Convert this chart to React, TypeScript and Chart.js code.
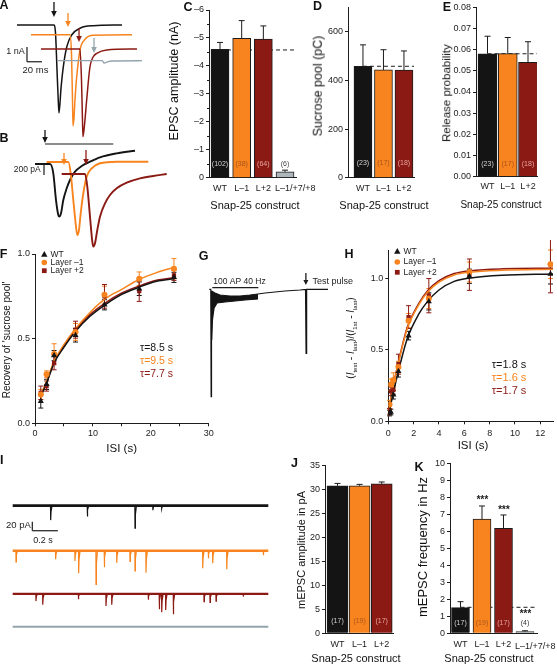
import React, { useEffect, useRef } from 'react';
import { Chart, registerables } from 'chart.js';

Chart.register(...registerables);

const FONT = '"Liberation Sans", Arial, Helvetica, sans-serif';
Chart.defaults.font.family = FONT;
Chart.defaults.color = '#111';

const BLACK = '#141414';
const ORANGE = '#f7841e';
const RED = '#8c1a14';
const LIGHTGRAY = '#adb7bb';
const TRACEGRAY = '#93a4ad';
const INK = '#1c1c1c';

// ================= DATA =================
// A: evoked EPSCs (time ms, current nA)
const A_WT_T = [0, 49, 51.3, 53.3, 54.9, 56, 58.7, 61.7, 66.3, 72.9, 84, 101.7, 140];
const A_WT_I = [0, 0, -0.5, -3.0, -5.0, -5.99, -4.29, -2.86, -1.5, -0.68, -0.22, -0.05, 0];
const A_L1_T = [18.7, 70.7, 72.7, 74, 74.7, 76, 77.3, 79.6, 84, 90.7, 101.7, 153.3];
const A_L1_I = [-0.66, -0.66, -2.04, -5.1, -6.87, -6.33, -5.1, -3.54, -1.7, -0.97, -0.7, -0.66];
const A_L2_T = [32, 84, 86, 87.3, 88, 90, 92.9, 97.3, 101.7, 106.3, 119.6, 160];
const A_L2_I = [-1.63, -1.63, -3.74, -6.46, -7.6, -6.8, -5.1, -2.84, -2.16, -1.93, -1.7, -1.63];
const A_LM_T = [54.7, 114, 116, 118.5, 126.7, 166.7];
const A_LM_I = [-2.43, -2.43, -2.6, -2.55, -2.45, -2.43];
const A_STIM_T = [49.3, 68, 82.7, 102.7];
const A_ARROW_FROM = [1.56, 0.82, -0.2, -0.88];
const A_ARROW_TO = [0.54, -0.14, -1.16, -1.9];

// B: sucrose responses (time s, current pA)
const B_WT_T = [0, 1.5, 1.83, 2.1, 2.33, 2.43, 2.6, 2.83, 3.17, 3.5, 4.0, 4.67, 5.5, 6.5, 8.17, 10.0];
const B_WT_I = [0, 0, -169, -655, -927, -957, -897, -655, -442, -291, -140, -36, 42, 122, 194, 242];
const B_L1_T = [1.17, 3.33, 3.57, 3.83, 4.1, 4.23, 4.4, 4.57, 4.83, 5.17, 5.67, 6.5, 8.17, 11.33];
const B_L1_I = [36, 36, -169, -655, -1139, -1291, -1200, -897, -533, -231, -78, 13, 42, 42];
const B_L2_T = [2.67, 5.0, 5.23, 5.5, 5.73, 5.83, 6.0, 6.23, 6.5, 7.0, 7.5, 8.17, 9.17, 10.5, 11.83, 13.17];
const B_L2_I = [-182, -182, -411, -957, -1412, -1503, -1442, -1200, -957, -715, -564, -442, -339, -260, -218, -182];
const B_STIM_T = [1.0, 2.9, 5.1];
const B_ARROW_FROM = [618, 200, 255];
const B_ARROW_TO = [382, -18, -18];

// C
const C_CATS = ['WT', 'L–1', 'L+2', 'L–1/+7/+8'];
const C_VALUES = [-4.59, -4.99, -4.96, -0.21];
const C_ERRORS = [0.25, 0.63, 0.47, 0.06];
const C_N = ['(102)', '(38)', '(64)', '(6)'];
const C_REF = -4.57;

// D
const D_CATS = ['WT', 'L–1', 'L+2'];
const D_VALUES = [458, 443, 442];
const D_ERRORS = [88, 83, 79];
const D_N = ['(23)', '(17)', '(18)'];
const D_REF = 458;

// E
const E_CATS = ['WT', 'L–1', 'L+2'];
const E_VALUES = [0.0581, 0.0582, 0.054];
const E_ERRORS = [0.0083, 0.0076, 0.0098];
const E_N = ['(23)', '(17)', '(18)'];
const E_REF = 0.0581;

// F
const F_ISI = [1, 2, 3.3, 7, 12, 18, 24];
const F_WT = [0.13, 0.23, 0.4, 0.52, 0.7, 0.795, 0.862];
const F_WT_ERR = [0.04, 0.03, 0.03, 0.04, 0.03, 0.04, 0.03];
const F_L1 = [0.17, 0.29, 0.41, 0.54, 0.76, 0.854, 0.913];
const F_L1_ERR = [0.03, 0.02, 0.06, 0.05, 0.05, 0.04, 0.06];
const F_L2 = [0.18, 0.22, 0.356, 0.553, 0.75, 0.78, 0.874];
const F_L2_ERR = [0.04, 0.03, 0.04, 0.05, 0.07, 0.06, 0.03];
const F_FIT_X = [1, 2, 3.3, 4.9, 7.1, 9.5, 12.1, 14.9, 17.9, 21, 24];
const F_FIT_WT = [0.16, 0.238, 0.356, 0.445, 0.547, 0.632, 0.7, 0.76, 0.803, 0.839, 0.854];
const F_FIT_L1 = [0.165, 0.25, 0.366, 0.46, 0.563, 0.655, 0.735, 0.79, 0.848, 0.89, 0.921];
const F_FIT_L2 = [0.16, 0.24, 0.36, 0.452, 0.555, 0.642, 0.71, 0.768, 0.81, 0.845, 0.86];
const F_TAU = ['τ=8.5 s', 'τ=9.5 s', 'τ=7.7 s'];

// H
const H_ISI = [0.1, 0.2, 0.4, 0.8, 1.6, 3.2, 6.4, 12.8];
const H_WT = [0.058, 0.065, 0.186, 0.35, 0.6, 0.84, 1.016, 1.032];
const H_WT_ERR = [0.02, 0.02, 0.03, 0.04, 0.03, 0.06, 0.05, 0.07];
const H_L1 = [0.117, 0.257, 0.29, 0.38, 0.705, 0.86, 1.046, 1.1];
const H_L1_ERR = [0.03, 0.04, 0.05, 0.04, 0.05, 0.07, 0.07, 0.1];
const H_L2 = [0.07, 0.21, 0.22, 0.4, 0.73, 0.88, 1.027, 1.1];
const H_L2_ERR = [0.02, 0.03, 0.03, 0.07, 0.08, 0.12, 0.11, 0.2];
const H_FIT_X = [0, 0.3, 0.7, 1.5, 2.4, 3.1, 4, 5.2, 6.5, 9, 13];
const H_FIT_WT = [0.035, 0.16, 0.315, 0.58, 0.75, 0.84, 0.92, 0.98, 1.004, 1.023, 1.032];
const H_FIT_L1 = [0.035, 0.2, 0.37, 0.65, 0.815, 0.905, 0.975, 1.025, 1.045, 1.058, 1.065];
const H_FIT_L2 = [0.035, 0.21, 0.375, 0.66, 0.825, 0.915, 0.985, 1.035, 1.055, 1.068, 1.072];
const H_TAU = ['τ=1.8 s', 'τ=1.6 s', 'τ=1.7 s'];

// G: 100 AP at 40 Hz train (time s, current nA)
const G_T = [0, 0.08, 0.1, 0.12, 0.31, 0.58, 1.12, 1.67, 2.21, 2.65, 3.03, 3.57, 4.11, 4.93, 5.23, 5.26, 5.29, 6.45];
const G_I = [0, 0, -10.74, -0.17, -0.37, -0.57, -0.67, -0.67, -0.57, -0.47, -0.37, -0.27, -0.17, -0.07, -0.02, -6.4, 0, 0];
const G_LOW_T = [0.12, 0.13, 0.17, 0.26, 0.42, 0.85, 1.4, 1.94, 2.65];
const G_LOW_I = [-0.17, -5.07, -3.07, -1.87, -1.37, -1.27, -1.17, -1.07, -0.97];

// I: mEPSC events (time s, amplitude pA)
const I_WT_T = [0.297, 0.584, 0.957, 1.097, 1.166];
const I_WT_A = [32, 24, 50, 10, 6];
const I_L1_T = [0.026, 0.336, 0.487, 0.516, 0.652, 0.717, 0.814, 0.918, 0.957, 1.043, 1.487, 1.531, 1.565, 1.675, 1.961];
const I_L1_A = [25, 19, 23, 50, 75, 37, 27, 24, 45, 49, 39, 17, 28, 41, 10];
const I_L2_T = [0.182, 0.235, 0.514, 0.73, 0.775, 1.061, 1.147, 1.166, 1.197, 1.257, 1.497, 1.544, 1.591, 1.804];
const I_L2_A = [16, 24, 12, 27, 24, 13, 34, 41, 36, 45, 17, 19, 16, 6];
const I_LM_T: number[] = [];
const I_LM_A: number[] = [];
const I_DURATION = 2.0;

// J
const J_CATS = ['WT', 'L–1', 'L+2'];
const J_VALUES = [30.8, 30.8, 31.2];
const J_ERRORS = [0.5, 0.3, 0.4];
const J_N = ['(17)', '(19)', '(17)'];

// K
const K_CATS = ['WT', 'L–1', 'L+2', 'L–1/+7/+8'];
const K_VALUES = [1.51, 6.72, 6.18, 0.1];
const K_ERRORS = [0.35, 0.77, 0.78, 0.05];
const K_N = ['(17)', '(19)', '(17)', '(4)'];
const K_SIG = ['', '***', '***', '***'];
const K_REF = 1.53;

// ================= PLUGIN =================
type Rect = { x: number; y: number; w: number; h: number };
type Area = { l: number; t: number; r: number; b: number };

function drawMarker(ctx: any, style: string, x: number, y: number, r: number, color: string) {
  ctx.fillStyle = color;
  ctx.beginPath();
  if (style === 'triangle') {
    ctx.moveTo(x, y - r * 1.1);
    ctx.lineTo(x + r, y + r * 0.7);
    ctx.lineTo(x - r, y + r * 0.7);
    ctx.closePath();
  } else if (style === 'rect') {
    ctx.rect(x - r * 0.85, y - r * 0.85, r * 1.7, r * 1.7);
  } else {
    ctx.arc(x, y, r, 0, Math.PI * 2);
  }
  ctx.fill();
}

function drawAnnot(chart: any, layer: string) {
  const a = chart.data.annot;
  if (!a) return;
  const ctx = chart.ctx;
  const ca = chart.chartArea;
  const xs = chart.scales.x;
  const ys = chart.scales.y;
  const o = a.origin;
  const X = (v: any, pg: boolean) => (v === 'R' ? ca.right : pg ? v - o.x : xs.getPixelForValue(v));
  const Y = (v: any, pg: boolean) => (pg ? v - o.y : ys.getPixelForValue(v));
  for (const it of a.items) {
    if ((it.layer || 'after') !== layer) continue;
    const pg = !!it.pg;
    const pgy = pg || !!it.pgy;
    ctx.save();
    if (it.k === 'line') {
      ctx.strokeStyle = it.c || INK;
      ctx.lineWidth = it.w || 1;
      ctx.setLineDash(it.dash || []);
      ctx.beginPath();
      ctx.moveTo(X(it.x1, pg), Y(it.y1, pgy));
      ctx.lineTo(X(it.x2, pg), Y(it.y2, pgy));
      ctx.stroke();
    } else if (it.k === 'arrow') {
      const x = X(it.x, pg);
      const y1 = Y(it.y1, pgy);
      const y2 = Y(it.y2, pgy);
      const hw = it.hw || 2.8;
      const hl = it.hl || 6;
      ctx.strokeStyle = it.c || INK;
      ctx.fillStyle = it.c || INK;
      ctx.lineWidth = it.w || 1.3;
      ctx.beginPath();
      ctx.moveTo(x, y1);
      ctx.lineTo(x, y2 - hl + 1);
      ctx.stroke();
      ctx.beginPath();
      ctx.moveTo(x - hw, y2 - hl);
      ctx.lineTo(x + hw, y2 - hl);
      ctx.lineTo(x, y2);
      ctx.closePath();
      ctx.fill();
    } else if (it.k === 'text') {
      ctx.fillStyle = it.c || INK;
      ctx.font = `${it.italic ? 'italic ' : ''}${it.bold ? 'bold ' : ''}${it.size || 9}px ${FONT}`;
      ctx.textAlign = it.align || 'center';
      ctx.textBaseline = it.base || 'middle';
      ctx.fillText(it.t, X(it.x, pg) + (it.dx || 0), Y(it.y, pgy));
    } else if (it.k === 'marker') {
      drawMarker(ctx, it.style, X(it.x, pg), Y(it.y, pgy), it.r || 3, it.c);
    } else if (it.k === 'yminor') {
      ctx.strokeStyle = INK;
      ctx.lineWidth = 1;
      ctx.beginPath();
      for (const v of it.values) {
        const y = Math.round(ys.getPixelForValue(v)) + 0.5;
        ctx.moveTo(ca.left, y);
        ctx.lineTo(ca.left - it.len, y);
      }
      ctx.stroke();
    }
    ctx.restore();
  }
}

function drawErrors(chart: any, layer: string) {
  const ctx = chart.ctx;
  const ys = chart.scales.y;
  chart.data.datasets.forEach((ds: any, di: number) => {
    if (!ds.errors || (ds.errLayer || 'after') !== layer) return;
    const meta = chart.getDatasetMeta(di);
    meta.data.forEach((el: any, i: number) => {
      const e = ds.errors[i];
      if (e == null) return;
      const raw = ds.data[i];
      const v = typeof raw === 'number' ? raw : raw.y;
      const x = el.x;
      const cap = ds.errCap ?? 3;
      ctx.save();
      ctx.strokeStyle = ds.errColor || INK;
      ctx.lineWidth = ds.errWidth || 1;
      ctx.beginPath();
      if (ds.errBoth) {
        const y1 = ys.getPixelForValue(v + e);
        const y2 = ys.getPixelForValue(v - e);
        ctx.moveTo(x, y1); ctx.lineTo(x, y2);
        ctx.moveTo(x - cap, y1); ctx.lineTo(x + cap, y1);
        ctx.moveTo(x - cap, y2); ctx.lineTo(x + cap, y2);
      } else {
        const dir = v < 0 ? -1 : 1;
        const y1 = ys.getPixelForValue(v);
        const y2 = ys.getPixelForValue(v + dir * e);
        ctx.moveTo(x, y1); ctx.lineTo(x, y2);
        ctx.moveTo(x - cap, y2); ctx.lineTo(x + cap, y2);
      }
      ctx.stroke();
      ctx.restore();
    });
  });
}

Chart.register({
  id: 'figExtras',
  beforeDatasetsDraw(chart: any) {
    drawAnnot(chart, 'before');
    drawErrors(chart, 'before');
  },
  afterDatasetsDraw(chart: any) {
    drawErrors(chart, 'after');
    drawAnnot(chart, 'after');
  },
} as any);

// ================= BUILDERS =================
function frame(rect: Rect, area: Area) {
  return {
    padding: { left: 0, top: area.t - rect.y, right: rect.x + rect.w - area.r, bottom: 0 },
    yw: area.l - rect.x,
    xh: rect.y + rect.h - area.b,
  };
}

const common = {
  responsive: false,
  animation: false,
  devicePixelRatio: 1,
  events: [],
};
const noPlugins = { legend: { display: false }, tooltip: { enabled: false }, title: { display: false } };

function barChart(s: any) {
  const f = frame(s.rect, s.area);
  const items: any[] = [];
  if (s.ref != null) items.push({ k: 'line', layer: 'before', x1: 0, y1: s.ref, x2: 'R', y2: s.ref, c: INK, w: 1, dash: [4, 3] });
  s.nText.forEach((t: string, i: number) => items.push({ k: 'text', x: i, y: s.nAt, t, c: s.nColors[i], size: 7 }));
  (s.sig || []).forEach((t: string, i: number) => {
    if (t) items.push({ k: 'text', x: i, y: s.sigAt[i], t, c: INK, size: 10, bold: true, italic: true });
  });
  if (s.leftLabel) items.push({ k: 'text', x: s.leftLabel.i, dx: -s.barPx / 2 - 1, y: s.leftLabel.y, pgy: true, t: s.cats[s.leftLabel.i], size: 9, align: 'left' });
  if (s.minor) items.push({ k: 'yminor', values: s.minor, len: 2 });
  return {
    type: 'bar',
    data: {
      annot: { origin: { x: s.rect.x, y: s.rect.y }, items },
      datasets: [
        {
          data: s.values.map((v: number, i: number) => ({ x: i, y: v })),
          backgroundColor: s.colors,
          borderColor: INK,
          borderWidth: 1,
          barThickness: s.barPx,
          errors: s.errors,
          errColor: INK,
          errCap: 3,
        },
      ],
    },
    options: {
      ...common,
      layout: { padding: f.padding },
      plugins: noPlugins,
      scales: {
        x: {
          type: 'linear', min: s.xMin, max: s.xMax, offset: false,
          afterFit: (sc: any) => { sc.height = f.xh; },
          grid: { display: false, drawTicks: false, offset: false },
          border: { display: true, color: INK, width: 1 },
          ticks: {
            stepSize: 1, includeBounds: false, autoSkip: false, maxRotation: 0, minRotation: 0,
            padding: s.xPad ?? 5, font: { family: FONT, size: 9 }, color: INK,
            callback: (v: number) =>
              Number.isInteger(v) && !(s.leftLabel && s.leftLabel.i === v) ? s.cats[v] ?? '' : '',
          },
        },
        y: {
          type: 'linear', min: s.yMin, max: s.yMax, reverse: !!s.reverse,
          afterFit: (sc: any) => { sc.width = f.yw; },
          grid: { display: true, drawOnChartArea: false, drawTicks: true, tickLength: 3, tickColor: INK, tickWidth: 1 },
          border: { display: true, color: INK, width: 1 },
          ticks: { stepSize: s.yStep, includeBounds: false, autoSkip: false, padding: 2, font: { family: FONT, size: 9 }, color: INK, callback: s.yFmt },
        },
      },
    },
  };
}

function scatterChart(s: any) {
  const f = frame(s.rect, s.area);
  const datasets: any[] = [];
  s.series.forEach((se: any) => {
    datasets.push({
      data: s.x.map((x: number, i: number) => ({ x, y: se.y[i] })),
      pointStyle: se.style, pointRadius: se.r, backgroundColor: se.color, borderColor: se.color, borderWidth: 0,
      showLine: false, errors: se.err, errBoth: true, errColor: se.color, errLayer: 'before', errCap: 2.5, order: 1,
    });
  });
  s.series.forEach((se: any) => {
    datasets.push({
      data: s.fitX.map((x: number, i: number) => ({ x, y: se.fit[i] })),
      showLine: true, pointRadius: 0, borderColor: se.color, borderWidth: 1.5,
      cubicInterpolationMode: 'monotone', order: 2,
    });
  });
  return {
    type: 'scatter',
    data: { annot: { origin: { x: s.rect.x, y: s.rect.y }, items: s.items }, datasets },
    options: {
      ...common,
      layout: { padding: f.padding },
      plugins: noPlugins,
      scales: {
        x: {
          type: 'linear', min: s.xMin, max: s.xMax,
          afterFit: (sc: any) => { sc.height = f.xh; },
          grid: { display: true, drawOnChartArea: false, drawTicks: true, tickLength: 3, tickColor: INK },
          border: { display: true, color: INK, width: 1 },
          ticks: { stepSize: s.xStep, includeBounds: false, autoSkip: false, maxRotation: 0, padding: s.xPad, font: { family: FONT, size: 9 }, color: INK, callback: s.xFmt },
        },
        y: {
          type: 'linear', min: s.yMin, max: s.yMax,
          afterFit: (sc: any) => { sc.width = f.yw; },
          grid: { display: true, drawOnChartArea: false, drawTicks: true, tickLength: 3, tickColor: INK },
          border: { display: true, color: INK, width: 1 },
          ticks: { stepSize: s.yStep, includeBounds: false, autoSkip: false, padding: 2, font: { family: FONT, size: 9 }, color: INK, callback: (v: number) => v.toFixed(1) },
        },
      },
    },
  };
}

function traceChart(rect: Rect, fr: any, datasets: any[], items: any[]) {
  const xMin = (rect.x - fr.x0) / fr.xu;
  const xMax = (rect.x + rect.w - fr.x0) / fr.xu;
  const yMax = (fr.y0 - rect.y) / fr.yu;
  const yMin = (fr.y0 - rect.y - rect.h) / fr.yu;
  return {
    type: 'scatter',
    data: { annot: { origin: { x: rect.x, y: rect.y }, items }, datasets },
    options: {
      ...common,
      layout: { padding: 0 },
      plugins: noPlugins,
      scales: {
        x: { type: 'linear', display: false, min: xMin, max: xMax },
        y: { type: 'linear', display: false, min: yMin, max: yMax },
      },
    },
  };
}

const line = (t: number[], v: number[], color: string, w = 1.4, extra: any = {}) => ({
  data: t.map((x, i) => ({ x, y: v[i] })),
  showLine: true, pointRadius: 0, borderColor: color, borderWidth: w,
  cubicInterpolationMode: 'monotone', ...extra,
});

function spikeTrace(ts: number[], as: number[], base: number, color: string) {
  const pts: any[] = [];
  ts.forEach((t, i) => {
    const a = as[i];
    pts.push({ x: t - 0.001, y: base }, { x: t, y: base - a }, { x: t + 0.003, y: base - a * 0.4 }, { x: t + 0.011, y: base }, { x: NaN, y: NaN });
  });
  return { data: pts, showLine: true, spanGaps: false, pointRadius: 0, borderColor: color, borderWidth: 1.2 };
}
function baseTrace(base: number, t1: number, color: string, w: number) {
  return { data: [{ x: 0, y: base }, { x: t1, y: base }], showLine: true, pointRadius: 0, borderColor: color, borderWidth: w };
}

// ================= CHART SPECS =================
const NCOL3 = ['#d0d0d0', '#a9531b', '#e7a39d'];

const CHARTS: { id: string; rect: Rect; build: () => any }[] = [
  {
    id: 'A',
    rect: { x: 0, y: 0, w: 185, h: 150 },
    build() {
      const fr = { x0: 17, xu: 0.75, y0: 25, yu: 14.7 };
      const cols = [BLACK, ORANGE, RED, TRACEGRAY];
      const items: any[] = A_STIM_T.map((t, i) => ({ k: 'arrow', x: t, y1: A_ARROW_FROM[i], y2: A_ARROW_TO[i], c: cols[i] }));
      items.push({ k: 'line', x1: 13.33, y1: -1.5, x2: 13.33, y2: -2.5, c: INK, w: 1.2 });
      items.push({ k: 'line', x1: 13.33, y1: -2.5, x2: 33.33, y2: -2.5, c: INK, w: 1.2 });
      items.push({ k: 'text', pg: true, x: 15.5, y: 52, t: '1 nA', size: 9 });
      items.push({ k: 'text', pg: true, x: 35.5, y: 70, t: '20 ms', size: 9.5 });
      return traceChart(this.rect, fr, [
        line(A_LM_T, A_LM_I, TRACEGRAY, 1.3),
        line(A_L2_T, A_L2_I, RED, 1.5),
        line(A_L1_T, A_L1_I, ORANGE, 1.5),
        line(A_WT_T, A_WT_I, BLACK, 1.5),
      ], items);
    },
  },
  {
    id: 'B',
    rect: { x: 0, y: 122, w: 185, h: 135 },
    build() {
      const fr = { x0: 35, xu: 10, y0: 164, yu: 0.055 };
      const cols = [BLACK, ORANGE, RED];
      const items: any[] = [{ k: 'line', x1: 1.0, y1: 364, x2: 7.83, y2: 364, c: INK, w: 1.2 }];
      B_STIM_T.forEach((t, i) => items.push({ k: 'arrow', x: t, y1: B_ARROW_FROM[i], y2: B_ARROW_TO[i], c: cols[i] }));
      items.push({ k: 'line', x1: 0.9, y1: 0, x2: 0.9, y2: -200, c: INK, w: 1.2 });
      items.push({ k: 'text', pg: true, x: 27.3, y: 169.3, t: '200 pA', size: 8.5 });
      return traceChart(this.rect, fr, [
        line(B_L2_T, B_L2_I, RED, 1.9),
        line(B_L1_T, B_L1_I, ORANGE, 1.9),
        line(B_WT_T, B_WT_I, BLACK, 1.9),
      ], items);
    },
  },
  {
    id: 'C',
    rect: { x: 182, y: 0, w: 136, h: 200 },
    build() {
      return barChart({
        rect: this.rect, area: { l: 209, t: 10, r: 296, b: 177.7 },
        cats: C_CATS, values: C_VALUES, errors: C_ERRORS, colors: [BLACK, ORANGE, RED, LIGHTGRAY],
        nText: C_N, nColors: [...NCOL3, '#444'], nAt: -0.5,
        yMin: -6, yMax: 0, reverse: true, yStep: 1, yFmt: (v: number) => (v === 0 ? '0' : '–' + Math.abs(v)),
        xMin: -0.508, xMax: 3.507, barPx: 18, ref: C_REF,
        leftLabel: { i: 3, y: 188.3 }, minor: [-5.5, -4.5, -3.5, -2.5, -1.5, -0.5],
      });
    },
  },
  {
    id: 'D',
    rect: { x: 322, y: 0, w: 104, h: 200 },
    build() {
      return barChart({
        rect: this.rect, area: { l: 348, t: 7.4, r: 414, b: 177.7 },
        cats: D_CATS, values: D_VALUES, errors: D_ERRORS, colors: [BLACK, ORANGE, RED],
        nText: D_N, nColors: NCOL3, nAt: 60,
        yMin: 0, yMax: 700, yStep: 200, yFmt: (v: number) => String(v),
        xMin: -0.73, xMax: 2.49, barPx: 18, ref: D_REF,
      });
    },
  },
  {
    id: 'E',
    rect: { x: 445, y: 0, w: 112, h: 200 },
    build() {
      return barChart({
        rect: this.rect, area: { l: 476, t: 7.5, r: 537, b: 176.5 },
        cats: E_CATS, values: E_VALUES, errors: E_ERRORS, colors: [BLACK, ORANGE, RED],
        nText: E_N, nColors: NCOL3, nAt: 0.006,
        yMin: 0, yMax: 0.08, yStep: 0.01, yFmt: (v: number) => v.toFixed(2),
        xMin: -0.568, xMax: 2.444, barPx: 19, ref: E_REF,
      });
    },
  },
  {
    id: 'F',
    rect: { x: 8, y: 244, w: 212, h: 216 },
    build() {
      const items: any[] = [
        { k: 'marker', pg: true, x: 44.3, y: 254.5, style: 'triangle', c: BLACK, r: 3.2 },
        { k: 'marker', pg: true, x: 44.3, y: 262.5, style: 'circle', c: ORANGE, r: 2.8 },
        { k: 'marker', pg: true, x: 44.3, y: 270.7, style: 'rect', c: RED, r: 2.8 },
        { k: 'text', pg: true, x: 50.5, y: 254.5, t: 'WT', size: 8.5, align: 'left' },
        { k: 'text', pg: true, x: 50.5, y: 262.5, t: 'Layer –1', size: 8.5, align: 'left' },
        { k: 'text', pg: true, x: 50.5, y: 270.7, t: 'Layer +2', size: 8.5, align: 'left' },
        { k: 'text', pg: true, x: 140, y: 348, t: F_TAU[0], size: 10.5, align: 'left', c: BLACK },
        { k: 'text', pg: true, x: 140, y: 361, t: F_TAU[1], size: 10.5, align: 'left', c: ORANGE },
        { k: 'text', pg: true, x: 140, y: 374, t: F_TAU[2], size: 10.5, align: 'left', c: RED },
      ];
      return scatterChart({
        rect: this.rect, area: { l: 35, t: 254, r: 208.7, b: 423.3 },
        x: F_ISI, fitX: F_FIT_X,
        series: [
          { y: F_WT, err: F_WT_ERR, fit: F_FIT_WT, color: BLACK, style: 'triangle', r: 3.5 },
          { y: F_L1, err: F_L1_ERR, fit: F_FIT_L1, color: ORANGE, style: 'circle', r: 3 },
          { y: F_L2, err: F_L2_ERR, fit: F_FIT_L2, color: RED, style: 'rect', r: 3 },
        ],
        xMin: 0, xMax: 30, xStep: 5, xPad: 1.5, xFmt: (v: number) => (v % 10 === 0 ? String(v) : ''),
        yMin: 0, yMax: 1, yStep: 0.5, items,
      });
    },
  },
  {
    id: 'G',
    rect: { x: 195, y: 262, w: 170, h: 145 },
    build() {
      const fr = { x0: 209.3, xu: 18.4, y0: 289.3, yu: 10 };
      const items: any[] = [
        { k: 'line', x1: 0.163, y1: 0.16, x2: 2.663, y2: 0.16, c: INK, w: 1.2 },
        { k: 'text', pg: true, x: 239.5, y: 281.5, t: '100 AP 40 Hz', size: 8.5 },
        { k: 'arrow', x: 5.25, y1: 1.63, y2: 0.43, c: INK, hw: 2.5, hl: 5 },
        { k: 'text', pg: true, x: 312.5, y: 281.7, t: 'Test pulse', size: 9, align: 'left' },
      ];
      return traceChart(this.rect, fr, [
        line(G_T, G_I, BLACK, 1.2, { cubicInterpolationMode: 'default', tension: 0 }),
        line(G_LOW_T, G_LOW_I, BLACK, 1.2, { cubicInterpolationMode: 'default', tension: 0, fill: '-1', backgroundColor: BLACK }),
      ], items);
    },
  },
  {
    id: 'H',
    rect: { x: 360, y: 240, w: 197, h: 216 },
    build() {
      const items: any[] = [
        { k: 'marker', pg: true, x: 397.3, y: 251.5, style: 'triangle', c: BLACK, r: 3.2 },
        { k: 'marker', pg: true, x: 397.3, y: 262, style: 'circle', c: ORANGE, r: 2.8 },
        { k: 'marker', pg: true, x: 397.3, y: 272.3, style: 'rect', c: RED, r: 2.8 },
        { k: 'text', pg: true, x: 403.5, y: 251.5, t: 'WT', size: 8.5, align: 'left' },
        { k: 'text', pg: true, x: 403.5, y: 262, t: 'Layer –1', size: 8.5, align: 'left' },
        { k: 'text', pg: true, x: 403.5, y: 272.3, t: 'Layer +2', size: 8.5, align: 'left' },
        { k: 'text', pg: true, x: 491.7, y: 365.3, t: H_TAU[0], size: 11, align: 'left', c: BLACK },
        { k: 'text', pg: true, x: 491.7, y: 378, t: H_TAU[1], size: 11, align: 'left', c: ORANGE },
        { k: 'text', pg: true, x: 491.7, y: 390.7, t: H_TAU[2], size: 11, align: 'left', c: RED },
      ];
      return scatterChart({
        rect: this.rect, area: { l: 388.3, t: 250, r: 556.7, b: 421.3 },
        x: H_ISI, fitX: H_FIT_X,
        series: [
          { y: H_WT, err: H_WT_ERR, fit: H_FIT_WT, color: BLACK, style: 'triangle', r: 3.5 },
          { y: H_L1, err: H_L1_ERR, fit: H_FIT_L1, color: ORANGE, style: 'circle', r: 3 },
          { y: H_L2, err: H_L2_ERR, fit: H_FIT_L2, color: RED, style: 'rect', r: 3 },
        ],
        xMin: 0, xMax: 13, xStep: 2, xPad: 3.5, xFmt: (v: number) => String(v),
        yMin: 0, yMax: 1.2, yStep: 0.5, items,
      });
    },
  },
  {
    id: 'I',
    rect: { x: 0, y: 488, w: 285, h: 150 },
    build() {
      const fr = { x0: 12.7, xu: 127.8, y0: 505.7, yu: 0.45 };
      const items: any[] = [
        { k: 'line', x1: 0.1534, y1: -35.6, x2: 0.1534, y2: -55.6, c: INK, w: 1.2 },
        { k: 'line', x1: 0.1534, y1: -55.6, x2: 0.3534, y2: -55.6, c: INK, w: 1.2 },
        { k: 'text', pg: true, x: 18.5, y: 525, t: '20 pA', size: 9.5 },
        { k: 'text', pg: true, x: 43, y: 540.7, t: '0.2 s', size: 9 },
      ];
      return traceChart(this.rect, fr, [
        baseTrace(-269, I_DURATION, TRACEGRAY, 2.2),
        spikeTrace(I_LM_T, I_LM_A, -269, TRACEGRAY),
        baseTrace(-196, I_DURATION, RED, 2.4),
        spikeTrace(I_L2_T, I_L2_A, -196, RED),
        baseTrace(-100, I_DURATION, ORANGE, 2.4),
        spikeTrace(I_L1_T, I_L1_A, -100, ORANGE),
        baseTrace(0, I_DURATION, BLACK, 2.8),
        spikeTrace(I_WT_T, I_WT_A, 0, BLACK),
      ], items);
    },
  },
  {
    id: 'J',
    rect: { x: 298, y: 455, w: 100, h: 209 },
    build() {
      return barChart({
        rect: this.rect, area: { l: 325, t: 465.7, r: 393, b: 633.3 },
        cats: J_CATS, values: J_VALUES, errors: J_ERRORS, colors: [BLACK, ORANGE, RED],
        nText: J_N, nColors: NCOL3, nAt: 2.6,
        yMin: 0, yMax: 35, yStep: 5, yFmt: (v: number) => String(v),
        xMin: -0.566, xMax: 2.511, barPx: 21, xPad: 6,
      });
    },
  },
  {
    id: 'K',
    rect: { x: 425, y: 455, w: 132, h: 209 },
    build() {
      return barChart({
        rect: this.rect, area: { l: 450, t: 463.3, r: 537, b: 633.3 },
        cats: K_CATS, values: K_VALUES, errors: K_ERRORS, colors: [BLACK, ORANGE, RED, LIGHTGRAY],
        nText: K_N, nColors: [...NCOL3, '#333'], nAt: 0.62,
        yMin: 0, yMax: 10, yStep: 1, yFmt: (v: number) => String(v),
        xMin: -0.488, xMax: 3.558, barPx: 18, ref: K_REF, xPad: 6,
        sig: K_SIG, sigAt: [0, 7.85, 7.25, 1.1],
        leftLabel: { i: 3, y: 646.7 },
      });
    },
  },
];

// ================= HTML TEXT =================
const LETTERS: [string, number, number][] = [
  ['A', 4, 4.5], ['B', 4, 137.5], ['C', 188, 6.5], ['D', 317.5, 6], ['E', 447, 6.5],
  ['F', 3.5, 254], ['G', 203.5, 256], ['H', 349, 254], ['I', 1.8, 460], ['J', 294.5, 463], ['K', 419, 467],
];

type TitleDef = { t: any; x: number; y: number; s: number; rot?: boolean };
const TITLES: TitleDef[] = [
  { t: 'EPSC amplitude (nA)', x: 174, y: 81, s: 12.5, rot: true },
  { t: 'Snap-25 construct', x: 255, y: 204.5, s: 11 },
  { t: 'Sucrose pool (pC)', x: 318, y: 86, s: 12.5, rot: true },
  { t: 'Snap-25 construct', x: 384, y: 204.5, s: 11 },
  { t: 'Release probability', x: 446.7, y: 93, s: 11.5, rot: true },
  { t: 'Snap-25 construct', x: 501, y: 204.5, s: 10 },
  { t: "Recovery of 'sucrose pool'", x: 6.5, y: 340, s: 10, rot: true },
  { t: 'ISI (s)', x: 121.7, y: 448.7, s: 11.5 },
  { t: 'ISI (s)', x: 473, y: 446, s: 11.5 },
  { t: 'mEPSC amplitude in pA', x: 301, y: 550, s: 11, rot: true },
  { t: 'Snap-25 construct', x: 356, y: 658.3, s: 11 },
  { t: 'mEPSC frequency in Hz', x: 421.7, y: 547, s: 13, rot: true },
  { t: 'Snap-25 construct', x: 489, y: 658, s: 11 },
];

function Txt({ x, y, s, rot, bold, children }: any) {
  return (
    <div
      style={{
        position: 'absolute', left: x, top: y,
        transform: `translate(-50%, -50%)${rot ? ' rotate(-90deg)' : ''}`,
        fontFamily: FONT, fontSize: s, fontWeight: bold ? 700 : 400, lineHeight: 1,
        whiteSpace: 'nowrap', color: '#111',
      }}
    >
      {children}
    </div>
  );
}

function ChartCanvas({ spec }: { spec: { id: string; rect: Rect; build: () => any } }) {
  const ref = useRef<HTMLCanvasElement | null>(null);
  useEffect(() => {
    const chart = new Chart(ref.current as HTMLCanvasElement, spec.build() as any);
    return () => chart.destroy();
  }, []);
  const r = spec.rect;
  return (
    <canvas
      ref={ref}
      width={r.w}
      height={r.h}
      style={{ position: 'absolute', left: r.x, top: r.y, width: r.w, height: r.h }}
    />
  );
}

export default function App() {
  return (
    <div style={{ position: 'absolute', left: 0, top: 0, width: 557, height: 664, background: '#fff', overflow: 'hidden' }}>
      {CHARTS.map((c) => (
        <ChartCanvas key={c.id} spec={c} />
      ))}
      {TITLES.map((t, i) => (
        <Txt key={'t' + i} x={t.x} y={t.y} s={t.s} rot={t.rot}>
          {t.t}
        </Txt>
      ))}
      <Txt x={351.7} y={338} s={10} rot>
        (<i>I</i><sub style={{ fontSize: 6 }}>test</sub> - <i>I</i><sub style={{ fontSize: 6 }}>last</sub>)/(<i>I</i>
        <sub style={{ fontSize: 6 }}>1st</sub> - <i>I</i><sub style={{ fontSize: 6 }}>last</sub>)
      </Txt>
      {LETTERS.map(([l, x, y]) => (
        <Txt key={l} x={x} y={y} s={12.5} bold>
          {l}
        </Txt>
      ))}
    </div>
  );
}
